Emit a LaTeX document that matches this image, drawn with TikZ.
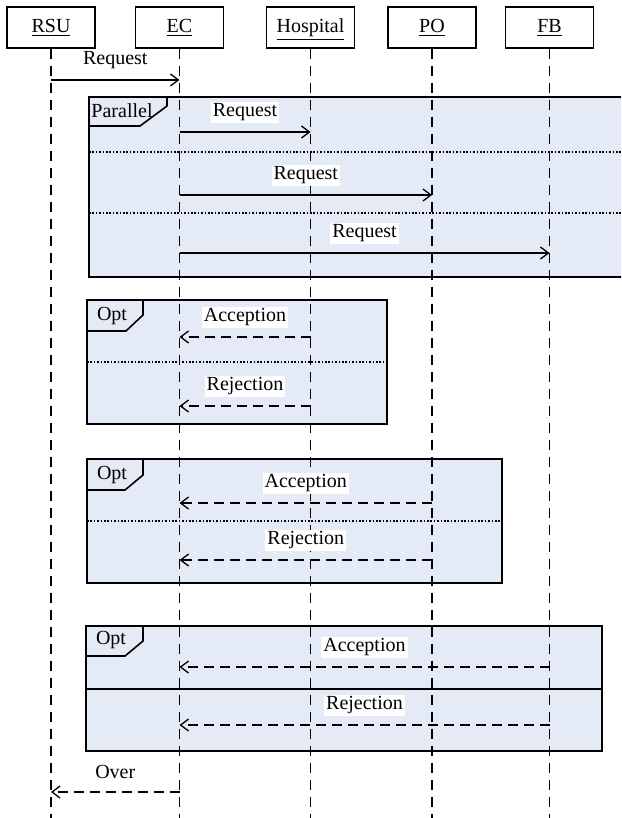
\documentclass[tikz,border=0pt]{standalone}
\usepackage{fontspec}
\setmainfont{Liberation Serif}
\usetikzlibrary{arrows.meta}
\definecolor{framefill}{RGB}{228,235,246}

\begin{document}
\begin{tikzpicture}[x=0.5pt,y=-0.5pt,
  font=\fontsize{10}{12}\selectfont,
  actor/.style={draw,fill=white,line width=0.7pt,minimum width=44pt,minimum height=20.5pt,
    inner sep=0pt,text height=7pt,text depth=2pt},
  lifeline/.style={line width=0.75pt,dash pattern=on 5pt off 3.5pt},
  msg/.style={line width=0.65pt,-{Straight Barb[length=4pt,width=6pt]}},
  reply/.style={msg,dash pattern=on 5pt off 3pt},
  frame/.style={draw,fill=framefill,line width=0.8pt},
  divider/.style={line width=0.7pt,dash pattern=on 0.8pt off 0.9pt},
  lbl/.style={fill=white,inner sep=1pt,midway,yshift=9.8pt}]
\clip (0,0) rectangle (621,818);
\coordinate (bottom) at (0,818);

% combined fragments
\filldraw[frame] (89,97) rectangle (640,277);
\draw[line width=0.8pt] (89,126) -- (140,126) -- (167,106) -- (167,97);
\node (par) at (122,111) {Parallel};
\draw[divider] (89,152) -- (640,152);
\draw[divider] (89,213) -- (640,213);

\filldraw[frame] (87,300) rectangle (387,424);
\draw[line width=0.8pt] (87,331) -- (126,331) -- (143,315) -- (143,300);
\node (opt1) at (112,316) {Opt};
\draw[divider] (87,362) -- (387,362);

\filldraw[frame] (87,459) rectangle (502,583);
\draw[line width=0.8pt] (87,490) -- (125,490) -- (143,475) -- (143,459);
\node (opt2) at (112,475) {Opt};
\draw[divider] (87,521) -- (502,521);

\filldraw[frame] (86,626) rectangle (602,751);
\draw[line width=0.8pt] (86,656) -- (125,656) -- (143,641) -- (143,626);
\node (opt3) at (111,640) {Opt};
\draw[line width=0.8pt] (86,689) -- (602,689);

% participants
\node[actor] (rsu)  at (51,27.5)    {\underline{RSU}};
\node[actor] (ec)   at (179.5,27.5) {\underline{EC}};
\node[actor] (hosp) at (310.5,27.5) {\underline{Hospital}};
\node[actor] (po)   at (432,27.5)   {\underline{PO}};
\node[actor] (fb)   at (549.5,27.5) {\underline{FB}};
\foreach \n in {rsu,ec,hosp,po,fb}
  \draw[lifeline] (\n.south) -- (\n.south |- bottom);

% messages
\draw[msg] (rsu |- 0,80) -- node[lbl] {Request} (ec |- 0,80);
\draw[msg] (ec |- 0,132) -- node[lbl] {Request} (hosp |- 0,132);
\draw[msg] (ec |- 0,195) -- node[lbl] {Request} (po |- 0,195);
\draw[msg] (ec |- 0,253) -- node[lbl] {Request} (fb |- 0,253);

\draw[reply] (hosp |- 0,337) -- node[lbl] {Acception} (ec |- 0,337);
\draw[reply] (hosp |- 0,406) -- node[lbl] {Rejection} (ec |- 0,406);
\draw[reply] (po |- 0,503) -- node[lbl] {Acception} (ec |- 0,503);
\draw[reply] (po |- 0,560) -- node[lbl] {Rejection} (ec |- 0,560);
\draw[reply] (fb |- 0,667) -- node[lbl] {Acception} (ec |- 0,667);
\draw[reply] (fb |- 0,725) -- node[lbl] {Rejection} (ec |- 0,725);

\draw[reply] (ec |- 0,792) -- node[lbl,fill=none] {Over} (rsu |- 0,792);
\end{tikzpicture}
\end{document}
